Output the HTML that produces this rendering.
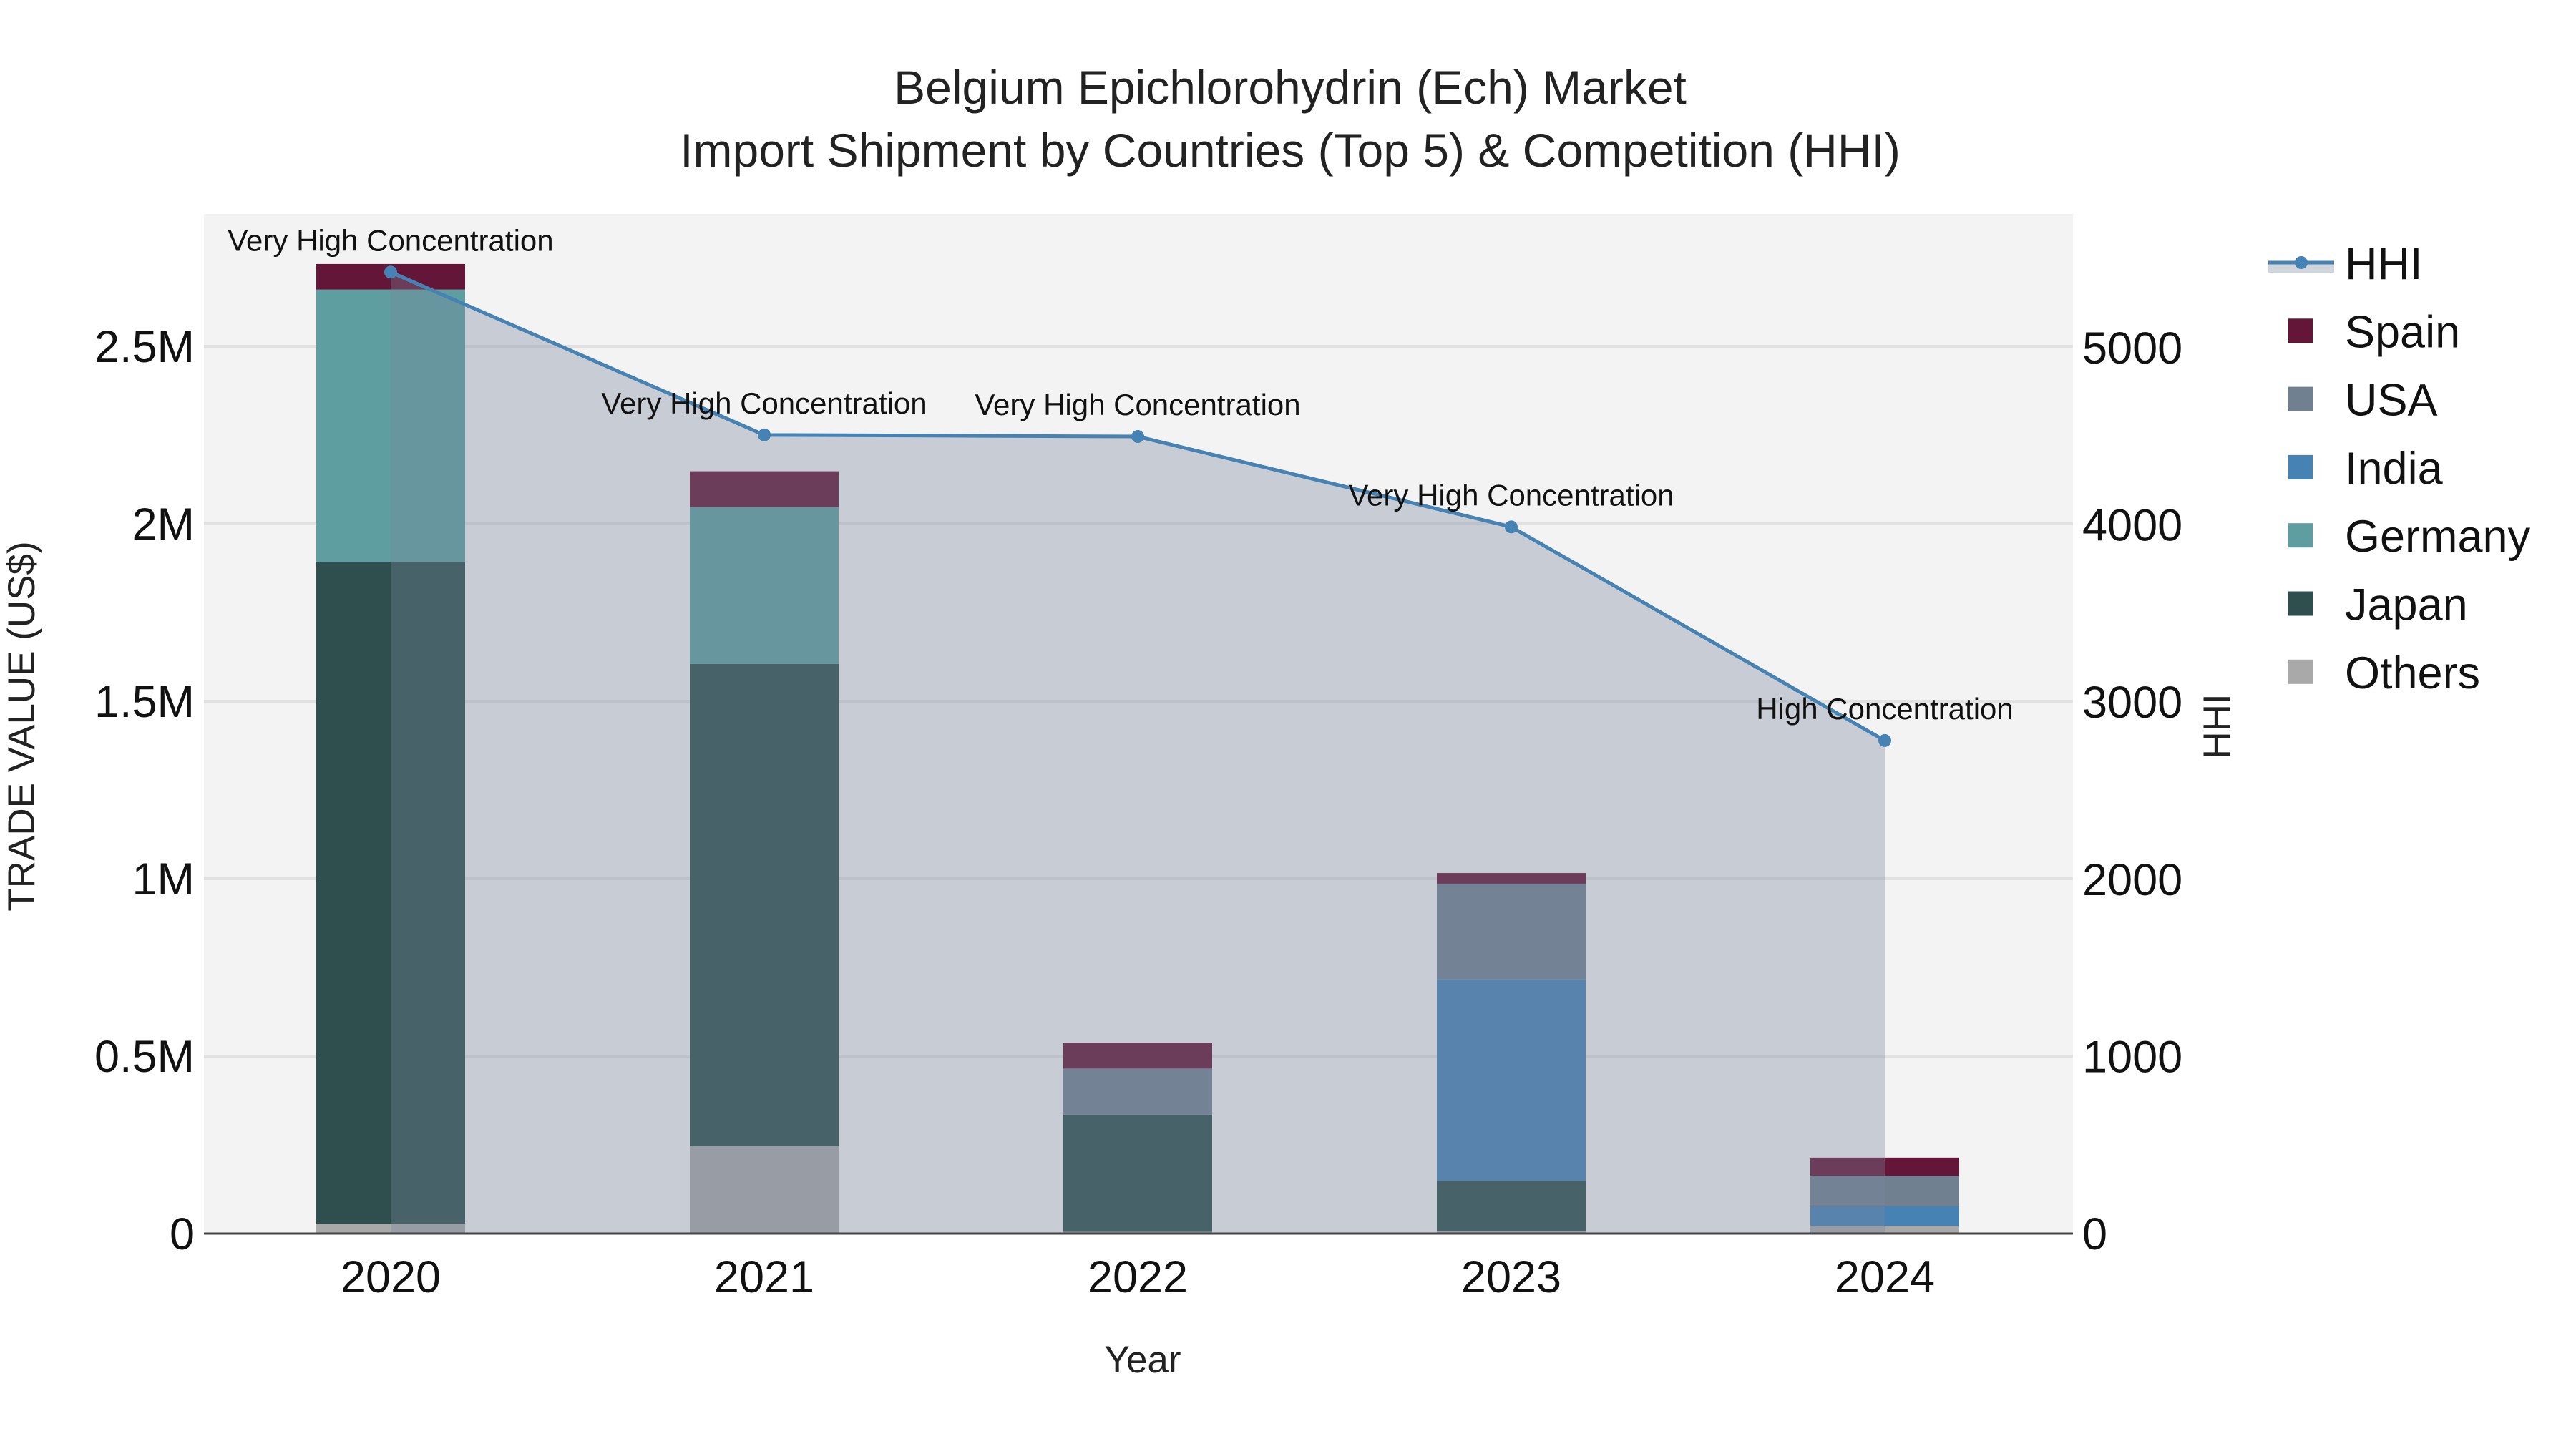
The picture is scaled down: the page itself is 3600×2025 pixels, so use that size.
<!DOCTYPE html>
<html><head><meta charset="utf-8"><style>
html,body{margin:0;padding:0;background:#fff;}
svg{display:block;font-family:"Liberation Sans",Arial,sans-serif;}
</style></head><body>
<svg id="chart" width="3600" height="2025" viewBox="0 0 3600 2025" xmlns="http://www.w3.org/2000/svg">
<rect x="0" y="0" width="3600" height="2025" fill="#fff"/>
<rect x="285" y="299" width="2612" height="1425" fill="#f3f3f3"/>
<g id="grid"></g><g id="bars"></g><g id="area"></g><g id="line"></g><g id="ann"></g><g id="axes"></g><g id="legend"></g>
<text x="1803" y="145" font-size="66" text-anchor="middle" fill="#222">Belgium Epichlorohydrin (Ech) Market</text>
<text x="1803" y="233" font-size="66" text-anchor="middle" fill="#222">Import Shipment by Countries (Top 5) &amp; Competition (HHI)</text>
<text x="1597" y="1918" font-size="53" text-anchor="middle" fill="#222">Year</text>
<text transform="translate(48,1015) rotate(-90)" font-size="53" text-anchor="middle" fill="#222">TRADE VALUE (US$)</text>
<text transform="translate(3116,1015) rotate(-90)" font-size="53" text-anchor="middle" fill="#222">HHI</text>
</svg>
<script>
const years = ["2020","2021","2022","2023","2024"];
const others = [0.028, 0.247, 0.005, 0.008, 0.022];
const japan = [1.865, 1.358, 0.330, 0.141, 0.0];
const germany = [0.767, 0.442, 0.0, 0.0, 0.0];
const india = [0.0, 0.0, 0.0, 0.567, 0.055];
const usa = [0.0, 0.0, 0.130, 0.270, 0.086];
const spain = [0.072, 0.101, 0.073, 0.030, 0.051];
const hhi = [5427, 4508, 4499, 3989, 2783];
const hhiLabels = ["Very High Concentration","Very High Concentration","Very High Concentration","Very High Concentration","High Concentration"];
const yTicks = [0, 0.5, 1, 1.5, 2, 2.5];
const yTickLabels = ["0","0.5M","1M","1.5M","2M","2.5M"];
const y2Ticks = [0, 1000, 2000, 3000, 4000, 5000];

const NS = "http://www.w3.org/2000/svg";
const X0 = 546, STEP = 522, BW = 208, Y0 = 1724, PXM = 496, PXH = 0.2476;
const PL = 285, PR = 2897;
function xS(i){ return X0 + i*STEP; }
function yS(v){ return Y0 - v*PXM; }
function y2S(v){ return Y0 - v*PXH; }
function mk(tag, attrs, parent){ const e=document.createElementNS(NS,tag); for(const k in attrs) e.setAttribute(k,attrs[k]); parent.appendChild(e); return e; }

const grid = document.getElementById('grid');
yTicks.forEach((t,i)=>{
  if(i>0){ const l=mk('line',{x1:PL,x2:PR,y1:yS(t),y2:yS(t),stroke:'#e2e2e2','stroke-width':4},grid);
  
   }
});

const series = [
  {name:'Others', vals:others, color:'#a9a9a9'},
  {name:'Japan', vals:japan, color:'#2f4f4f'},
  {name:'Germany', vals:germany, color:'#5f9ea0'},
  {name:'India', vals:india, color:'#4682b4'},
  {name:'USA', vals:usa, color:'#708090'},
  {name:'Spain', vals:spain, color:'#641638'}
];
const bars = document.getElementById('bars');
years.forEach((yr,i)=>{
  let base = 0;
  series.forEach(s=>{
    const v = s.vals[i];
    if(v>0){
      const r = mk('rect',{x:xS(i)-BW/2,y:yS(base+v),width:BW,height:v*PXM,fill:s.color},bars);
      
      
    }
    base += v;
  });
});

let d = 'M'+xS(0)+','+Y0;
hhi.forEach((h,i)=>{ d += ' L'+xS(i)+','+y2S(h); });
d += ' L'+xS(hhi.length-1)+','+Y0+' Z';
const area = mk('path',{d:d,fill:'rgba(121,135,158,0.35)'},document.getElementById('area'));


const lg = document.getElementById('line');
const pts = hhi.map((h,i)=>xS(i)+','+y2S(h)).join(' ');
const pl = mk('polyline',{points:pts,fill:'none',stroke:'#4682b4','stroke-width':5},lg);


const ann = document.getElementById('ann');
hhi.forEach((h,i)=>{
  const c = mk('circle',{cx:xS(i),cy:y2S(h),r:9,fill:'#4682b4'},lg);
  
  
  const t = mk('text',{x:xS(i),y:y2S(h)-30,'font-size':42,'text-anchor':'middle',fill:'#111'},ann);
  t.textContent = hhiLabels[i];
  
  
});

const ax = document.getElementById('axes');
const zl = mk('line',{x1:PL,x2:PR,y1:Y0,y2:Y0,stroke:'#444','stroke-width':3},ax);


yTicks.forEach((t,i)=>{
  const tx = mk('text',{x:272,y:yS(t)+22,'font-size':63,'text-anchor':'end',fill:'#111'},ax);
  tx.textContent = yTickLabels[i];
  
  
});
y2Ticks.forEach(t=>{
  const tx = mk('text',{x:2910,y:y2S(t)+22,'font-size':63,'text-anchor':'start',fill:'#111'},ax);
  tx.textContent = String(t);
  
  
});
years.forEach((yr,i)=>{
  const tx = mk('text',{x:xS(i),y:1806,'font-size':63,'text-anchor':'middle',fill:'#111'},ax);
  tx.textContent = yr;
  
  
});

const leg = document.getElementById('legend');
const legItems = [
  {name:'HHI', color:'#4682b4'},
  {name:'Spain', color:'#641638'},
  {name:'USA', color:'#708090'},
  {name:'India', color:'#4682b4'},
  {name:'Germany', color:'#5f9ea0'},
  {name:'Japan', color:'#2f4f4f'},
  {name:'Others', color:'#a9a9a9'}
];
legItems.forEach((it,i)=>{
  const cy = 367 + i*95.3;
  const g = mk('g',{},leg);
  
  
  if(i===0){
    mk('rect',{x:3170,y:cy,width:92,height:14,fill:'rgba(121,135,158,0.35)'},g);
    mk('line',{x1:3170,x2:3262,y1:cy,y2:cy,stroke:'#4682b4','stroke-width':5},g);
    mk('circle',{cx:3216,cy:cy,r:9,fill:'#4682b4'},g);
  } else {
    mk('rect',{x:3198,y:cy-17,width:34,height:34,fill:it.color},g);
  }
  const t = mk('text',{x:3277,y:cy+23,'font-size':63,fill:'#111'},g);
  t.textContent = it.name;
});
</script>
</body></html>
